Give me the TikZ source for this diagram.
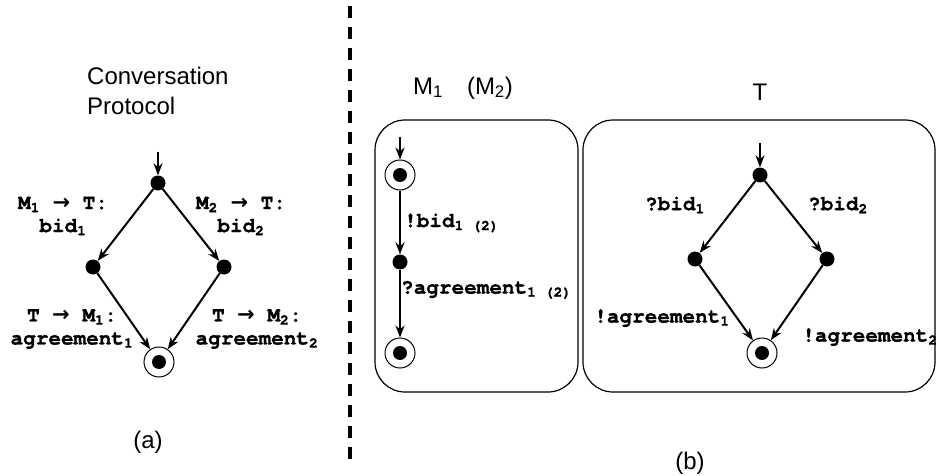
\documentclass[tikz,border=0pt]{standalone}
\usepackage{fontspec}
\setmainfont{Liberation Sans}
\newfontfamily\monofont[BoldFeatures={FakeBold=1.2}]{TeX Gyre Cursor}
\newfontfamily\arrowfont{DejaVu Sans}
\usetikzlibrary{arrows.meta}

\newcommand{\msgto}{{\arrowfont\bfseries →}}

\tikzset{
	state/.style={circle, fill=black, inner sep=0pt, minimum size=15pt},
	final/.style={circle, draw, line width=1pt, inner sep=0pt, minimum size=30pt,
		path picture={\fill (path picture bounding box.center) circle (7pt);}},
	trans/.style={-{Stealth[length=12pt,width=9pt]}, line width=2pt},
	msg/.style={font=\fontsize{21}{23}\selectfont\monofont\bfseries, align=center, inner sep=0pt},
	title/.style={font=\fontsize{24}{30}\selectfont, inner sep=0pt},
	panel/.style={draw, line width=1.2pt, rounded corners=30pt}
}

\begin{document}
\begin{tikzpicture}[x=1pt,y=-1pt]
\useasboundingbox (0,0) rectangle (937,476);

% Conversation protocol
\node[title, align=left, anchor=west] (cptitle) at (87,91) {Conversation\\Protocol};
\coordinate (cpin) at (158,152);
\node[state] (c0) at (158,183) {};
\node[state] (c1) at (93,267) {};
\node[state] (c2) at (224,267) {};
\node[final] (c3) at (159,362) {};
\draw[trans] (cpin) -- (c0);
\draw[trans] (c0) -- (c1);
\draw[trans] (c0) -- (c2);
\draw[trans] (c1) -- (c3);
\draw[trans] (c2) -- (c3);
\node[msg] (cb1) at (63,216) {M\textsubscript{1} \msgto{} T:\\bid\textsubscript{1}};
\node[msg] (cb2) at (241,216) {M\textsubscript{2} \msgto{} T:\\bid\textsubscript{2}};
\node[msg] (ca1) at (72,329) {T \msgto{} M\textsubscript{1}:\\agreement\textsubscript{1}};
\node[msg] (ca2) at (257,329) {T \msgto{} M\textsubscript{2}:\\agreement\textsubscript{2}};
\node[title] (alabel) at (148,442) {(a)};

% Separator
\draw[line width=3.5pt, dash pattern=on 12pt off 9pt] (350,6) -- (350,460);

% Merchant M1 (M2)
\draw[panel] (375,120) rectangle (578,392);
\node[title] (mtitle) at (463,88) {M\textsubscript{1}\quad (M\textsubscript{2})};
\coordinate (min) at (400,137);
\node[final] (m0) at (400,175) {};
\node[state] (m1) at (400,262) {};
\node[final] (m2) at (400,353) {};
\draw[trans] (min) -- (m0);
\draw[trans] (m0) -- (m1);
\draw[trans] (m1) -- (m2);
\node[msg, anchor=west] (mbid) at (404,223) {!bid\textsubscript{1 (2)}};
\node[msg, anchor=west] (magr) at (401,290) {?agreement\textsubscript{1 (2)}};

% Trader T
\draw[panel] (583,120) rectangle (935,392);
\node[title] (ttitle) at (760,92) {T};
\coordinate (tin) at (760,143);
\node[state] (t0) at (760,175) {};
\node[state] (t1) at (695,259) {};
\node[state] (t2) at (827,259) {};
\node[final] (t3) at (762,353) {};
\draw[trans] (tin) -- (t0);
\draw[trans] (t0) -- (t1);
\draw[trans] (t0) -- (t2);
\draw[trans] (t1) -- (t3);
\draw[trans] (t2) -- (t3);
\node[msg] (tbid1) at (675,205) {?bid\textsubscript{1}};
\node[msg] (tbid2) at (838,205) {?bid\textsubscript{2}};
\node[msg] (tagr1) at (662,318) {!agreement\textsubscript{1}};
\node[msg] (tagr2) at (870,337) {!agreement\textsubscript{2}};
\node[title] (blabel) at (690,463) {(b)};

\end{tikzpicture}
\end{document}
